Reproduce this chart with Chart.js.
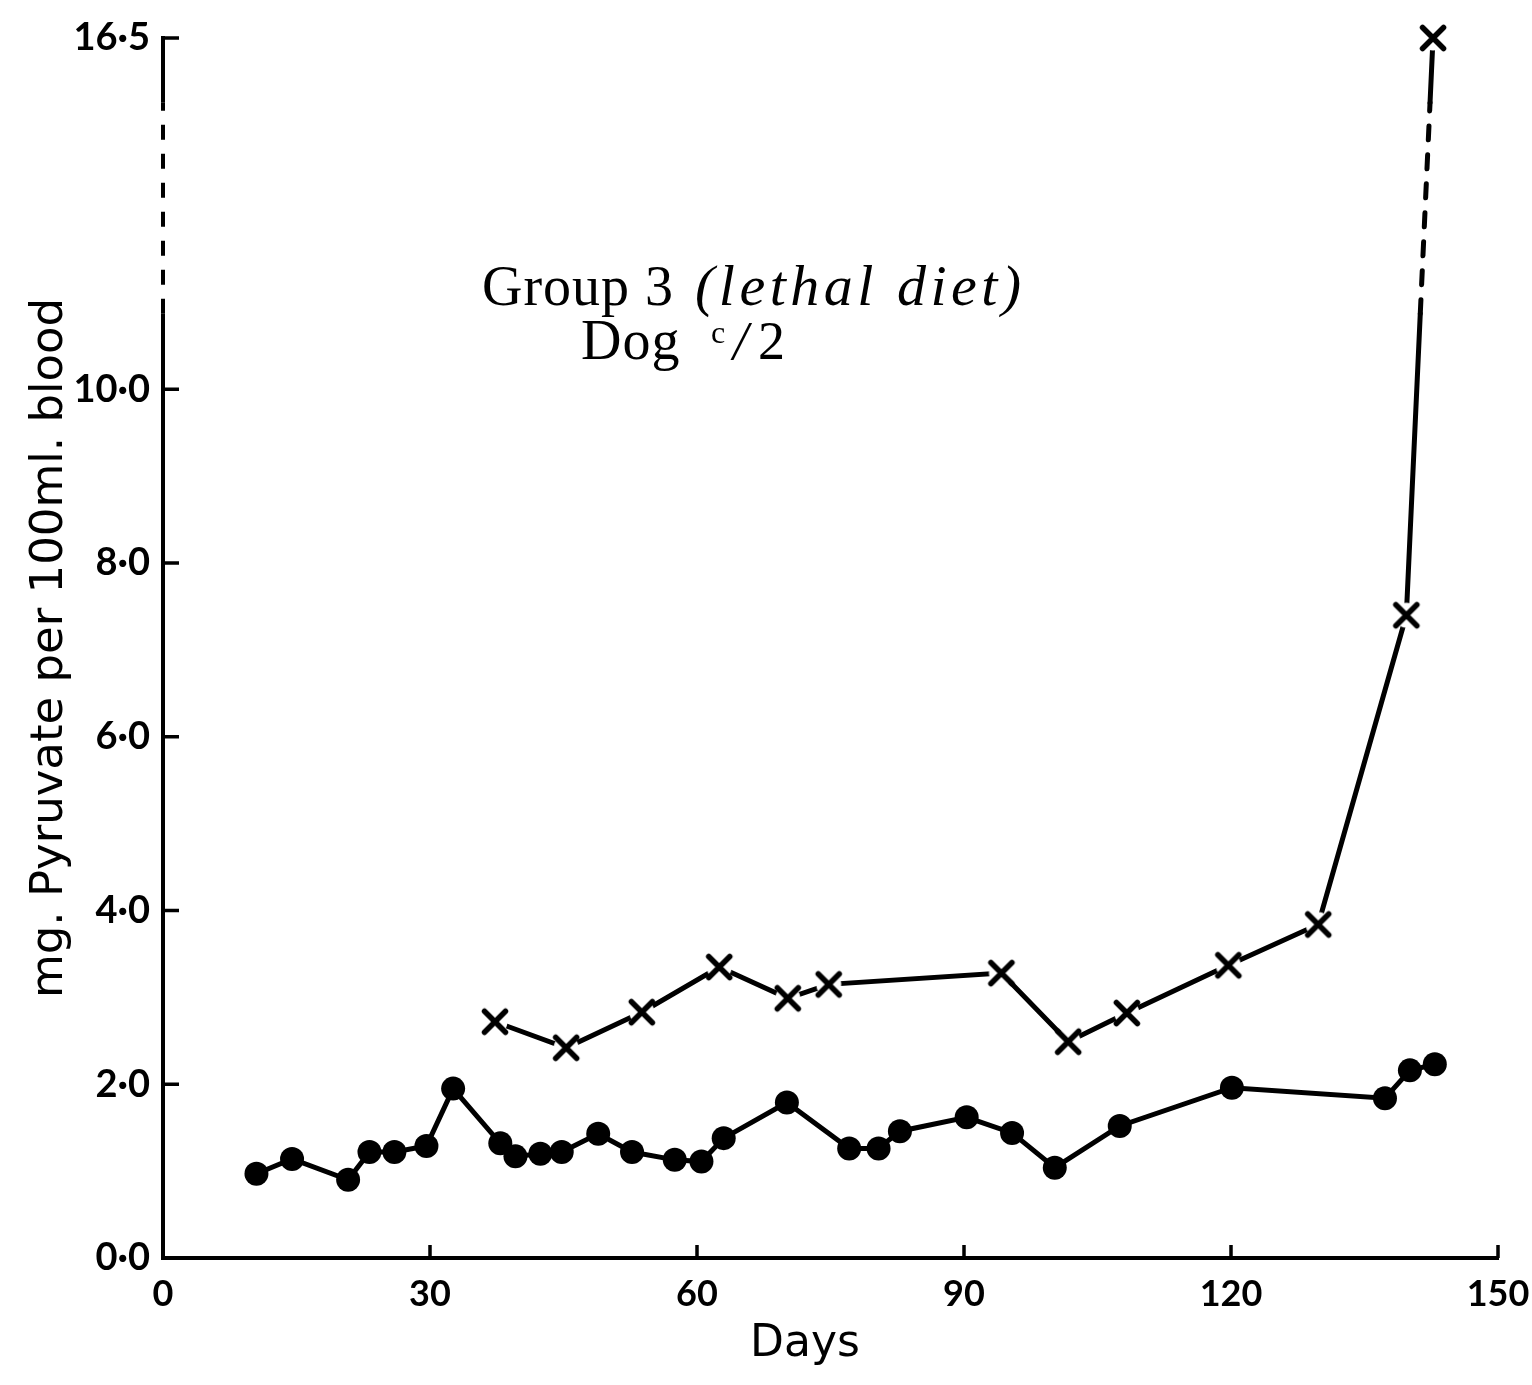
<!DOCTYPE html>
<html>
<head>
<meta charset="utf-8">
<script src="https://cdn.jsdelivr.net/npm/chart.js@4.4.1/dist/chart.umd.min.js"></script>
<style>
  html, body { margin: 0; padding: 0; background: #fff; }
  canvas { display: block; }
</style>
</head>
<body>
<canvas id="chart" width="1532" height="1385"></canvas>
<script>
// Blood pyruvate of Dog C/2 on the lethal diet (Group 3), mg per 100 ml blood.
const circleDays   = [10.5, 14.5, 20.8, 23.2, 26.0, 29.6, 32.6, 37.9, 39.6, 42.4, 44.8, 48.9, 52.7, 57.5,
                      60.5, 63.0, 70.1, 77.1, 80.4, 82.8, 90.3, 95.4, 100.2, 107.5, 120.1, 137.3, 140.1, 142.9];
const circleValues = [0.97, 1.14, 0.90, 1.22, 1.22, 1.29, 1.95, 1.32, 1.17, 1.20, 1.22, 1.43, 1.22, 1.13,
                      1.11, 1.38, 1.79, 1.26, 1.26, 1.46, 1.62, 1.44, 1.04, 1.52, 1.96, 1.84, 2.16, 2.23];
const crossDays    = [37.3, 45.3, 53.8, 62.5, 70.2, 74.8, 94.2, 101.7, 108.3, 119.7, 129.8, 139.7, 142.7];
const crossValues  = [2.72, 2.42, 2.83, 3.35, 2.99, 3.15, 3.28, 2.49, 2.82, 3.37, 3.84, 7.4, 16.5];

const xTickValues = [0, 30, 60, 90, 120, 150];
const xTickLabels = ['0', '30', '60', '90', '120', '150'];
const yTickValues = [0, 2, 4, 6, 8, 10, 16.5];
const yTickLabels = ['0·0', '2·0', '4·0', '6·0', '8·0', '10·0', '16·5'];

// The value axis is linear up to 10 and compressed above it; the stretch between
// the two limits below is drawn dashed to mark the break.
const Y_BREAK_AT = 10;
const Y_BREAK_SHARE = 0.712;
const Y_GAP = [11.4, 15.3];

class BrokenLinearScale extends Chart.LinearScale {
  static id = 'brokenLinear';
  static defaults = {};
  toDecimal(v) {
    const lo = this.min, hi = this.max;
    const b = this.options.breakAt, s = this.options.breakShare;
    return v <= b ? (v - lo) / (b - lo) * s : s + (v - b) / (hi - b) * (1 - s);
  }
  getPixelForValue(value) {
    if (value === null || value === undefined || isNaN(value)) return NaN;
    return this.getPixelForDecimal(this.toDecimal(value));
  }
  getValueForPixel(pixel) {
    const d = this.getDecimalForPixel(pixel);
    const lo = this.min, hi = this.max;
    const b = this.options.breakAt, s = this.options.breakShare;
    return d <= s ? lo + d / s * (b - lo) : b + (d - s) / (1 - s) * (hi - b);
  }
}
Chart.register(BrokenLinearScale);

// Cross marker with a white halo so the joining lines stop short of it.
function crossMarker() {
  const size = 40, c = document.createElement('canvas');
  c.width = c.height = size;
  const g = c.getContext('2d'), m = size / 2, h = 10.5;
  g.fillStyle = '#fff';
  g.beginPath(); g.arc(m, m, 12.5, 0, Math.PI * 2); g.fill();
  g.strokeStyle = '#000'; g.lineWidth = 5.5; g.lineCap = 'round';
  g.beginPath();
  g.moveTo(m - h, m - h); g.lineTo(m + h, m + h);
  g.moveTo(m + h, m - h); g.lineTo(m - h, m + h);
  g.stroke();
  return c;
}

const toPoints = (xs, ys) => xs.map((x, i) => ({ x, y: ys[i] }));

// Y axis line, inward tick marks, and the last rise of the cross series,
// solid / dashed / solid across the break.
const axisMarks = {
  id: 'axisMarks',
  beforeDatasetsDraw(chart) {
    const { ctx, chartArea } = chart;
    const xs = chart.scales.x, ys = chart.scales.y;
    const yLo = ys.getPixelForValue(Y_GAP[0]);
    const yHi = ys.getPixelForValue(Y_GAP[1]);
    ctx.save();
    ctx.strokeStyle = '#000';
    ctx.lineCap = 'butt';

    const ax = chartArea.left;
    ctx.lineWidth = 4;
    ctx.beginPath();
    ctx.moveTo(ax, ys.getPixelForValue(0) + 2); ctx.lineTo(ax, yLo);
    ctx.moveTo(ax, yHi); ctx.lineTo(ax, ys.getPixelForValue(ys.max) - 2);
    ctx.stroke();
    ctx.setLineDash([15, 14]);
    ctx.beginPath(); ctx.moveTo(ax, yLo); ctx.lineTo(ax, yHi); ctx.stroke();
    ctx.setLineDash([]);

    ctx.lineWidth = 3.5;
    ctx.beginPath();
    yTickValues.forEach(v => {
      const py = ys.getPixelForValue(v);
      ctx.moveTo(ax, py); ctx.lineTo(ax + 16, py);
    });
    xTickValues.forEach(v => {
      const px = xs.getPixelForValue(v);
      ctx.moveTo(px, chartArea.bottom); ctx.lineTo(px, chartArea.bottom - 13);
    });
    ctx.stroke();

    const meta = chart.getDatasetMeta(1);
    ctx.lineWidth = 5;
    ctx.lineCap = 'round';
    for (let i = 1; i < meta.data.length; i++) {
      if (crossValues[i] <= Y_BREAK_AT) continue;
      const p0 = meta.data[i - 1], p1 = meta.data[i];
      const at = y => p0.x + (p1.x - p0.x) * (y - p0.y) / (p1.y - p0.y);
      ctx.beginPath();
      ctx.moveTo(p0.x, p0.y); ctx.lineTo(at(yLo), yLo);
      ctx.moveTo(at(yHi), yHi); ctx.lineTo(p1.x, p1.y);
      ctx.stroke();
      ctx.setLineDash([14, 15]);
      ctx.beginPath();
      ctx.moveTo(at(yLo), yLo); ctx.lineTo(at(yHi), yHi);
      ctx.stroke();
      ctx.setLineDash([]);
    }
    ctx.restore();
  }
};

// Caption block and the day-axis title.
const captions = {
  id: 'captions',
  afterDraw(chart) {
    const ctx = chart.ctx;
    ctx.save();
    ctx.fillStyle = '#000';
    ctx.textBaseline = 'alphabetic';
    ctx.textAlign = 'left';
    ctx.letterSpacing = '1px';
    ctx.font = '56px "Liberation Serif"';
    ctx.fillText('Group 3', 482, 305);
    ctx.letterSpacing = '4.5px';
    ctx.font = 'italic 58px "Liberation Serif"';
    ctx.fillText('(lethal diet)', 695, 305);
    ctx.letterSpacing = '1px';
    ctx.font = '56px "Liberation Serif"';
    ctx.fillText('Dog', 581, 359);
    ctx.letterSpacing = '0px';
    ctx.font = '32px "Liberation Serif"';
    ctx.fillText('c', 711, 343);
    ctx.font = 'italic 54px "Liberation Serif"';
    ctx.fillText('/', 733, 359);
    ctx.font = '54px "Liberation Serif"';
    ctx.fillText('2', 758, 359);

    ctx.font = '44px "DejaVu Sans"';
    ctx.textAlign = 'center';
    ctx.textBaseline = 'middle';
    ctx.fillText('Days', 805, 1345);
    ctx.restore();
  }
};

new Chart(document.getElementById('chart'), {
  type: 'line',
  data: {
    datasets: [
      {
        label: 'circles',
        data: toPoints(circleDays, circleValues),
        borderColor: '#000',
        borderWidth: 5,
        pointStyle: 'circle',
        pointRadius: 12,
        pointBackgroundColor: '#000',
        pointBorderWidth: 0,
        tension: 0,
        clip: false
      },
      {
        label: 'crosses',
        data: toPoints(crossDays, crossValues),
        borderColor: '#000',
        borderWidth: 5,
        pointStyle: crossMarker(),
        pointRadius: 12,
        tension: 0,
        clip: false,
        segment: {
          borderColor: ctx => (ctx.p1.parsed.y > Y_BREAK_AT ? 'rgba(0,0,0,0)' : undefined)
        }
      }
    ]
  },
  options: {
    responsive: false,
    animation: false,
    events: [],
    layout: { padding: { top: 38, right: 34, left: 0, bottom: 0 } },
    plugins: { legend: { display: false }, tooltip: { enabled: false } },
    scales: {
      x: {
        type: 'linear',
        min: 0,
        max: 150,
        afterBuildTicks: s => { s.ticks = xTickValues.map(v => ({ value: v })); },
        afterFit: s => { s.height = 127; s.paddingLeft = 0; s.paddingRight = 0; },
        border: { display: true, color: '#000', width: 4 },
        grid: { display: false, drawTicks: false },
        ticks: {
          autoSkip: false,
          maxRotation: 0,
          padding: 15,
          color: '#000',
          font: { family: 'Lato', size: 36, weight: 'bold' },
          callback: (v, i) => xTickLabels[i]
        }
      },
      y: {
        type: 'brokenLinear',
        min: 0,
        max: 16.5,
        breakAt: Y_BREAK_AT,
        breakShare: Y_BREAK_SHARE,
        afterBuildTicks: s => { s.ticks = yTickValues.map(v => ({ value: v })); },
        afterFit: s => { s.width = 163; s.paddingTop = 0; s.paddingBottom = 0; },
        border: { display: false },
        grid: { display: false, drawTicks: false },
        title: {
          display: true,
          text: 'mg. Pyruvate per 100ml. blood',
          color: '#000',
          font: { family: 'DejaVu Sans', size: 45 },
          padding: { top: 23, bottom: 0 }
        },
        ticks: {
          autoSkip: false,
          padding: 13,
          color: '#000',
          font: { family: 'Lato', size: 38, weight: 'bold' },
          callback: (v, i) => yTickLabels[i]
        }
      }
    }
  },
  plugins: [axisMarks, captions]
});
</script>
</body>
</html>
